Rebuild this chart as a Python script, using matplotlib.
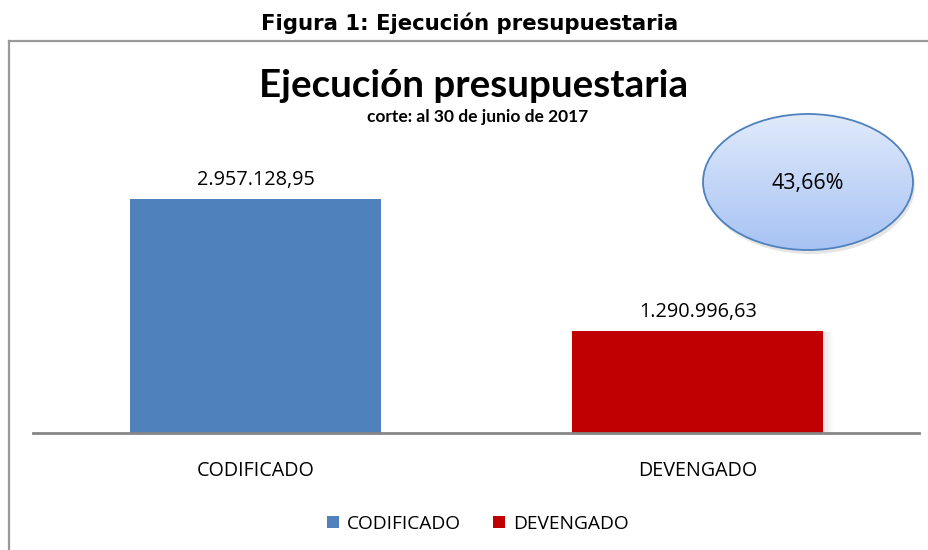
import matplotlib
matplotlib.use("Agg")
import matplotlib.pyplot as plt
import numpy as np
from matplotlib.patches import Ellipse, Rectangle
from matplotlib.lines import Line2D
from matplotlib.colors import LinearSegmentedColormap

categories = ["CODIFICADO", "DEVENGADO"]
values = [2957128.95, 1290996.63]
value_labels = ["2.957.128,95", "1.290.996,63"]
colors = ["#4F81BD", "#C00000"]
percent_label = "43,66%"
fig_title = "Figura 1: Ejecución presupuestaria"
chart_title = "Ejecución presupuestaria"
chart_subtitle = "corte: al 30 de junio de 2017"

W, H = 929, 550
fig = plt.figure(figsize=(W / 100, H / 100), dpi=100)

def fx(px):
    return px / W

def fy(py):
    return 1 - py / H

# figure caption
fig.text(fx(470), fy(30), fig_title, ha="center", va="baseline",
         fontsize=15.3, fontweight="bold", family="DejaVu Sans")

# chart frame (top and left borders)
fig.add_artist(Line2D([fx(9), fx(929)], [fy(41), fy(41)], color="#999999", lw=1.6))
fig.add_artist(Line2D([fx(9.5), fx(9.5)], [fy(41), fy(550)], color="#999999", lw=1.6))

# chart titles
fig.text(fx(474), fy(97), chart_title, ha="center", va="baseline",
         fontsize=27.7, fontweight="bold", family="Lato")
fig.text(fx(478), fy(122), chart_subtitle, ha="center", va="baseline",
         fontsize=12.5, fontweight="bold", family="Lato")

# axes: baseline at y=433, left 33, right 919
ax_top_px = 160
ax = fig.add_axes([fx(33), fy(433), fx(919) - fx(33), (433 - ax_top_px) / H])
x = np.arange(len(categories))
bw = 0.567
ymax = values[0] * (433 - ax_top_px) / (433 - 199)
ax.set_xlim(-0.503, 1.50)
ax.set_ylim(0, ymax)

# soft shadow on the right of the DEVENGADO bar
for k in range(6):
    ax.bar(x[1] + bw / 2 + 0.0035 * (k + 0.5), values[1] * 0.99, width=0.0035,
           color="#000000", alpha=0.10 * (1 - k / 6), zorder=1, linewidth=0)
bars = ax.bar(x, values, width=bw, color=colors, zorder=2, linewidth=0)

for xi, v, lab in zip(x, values, value_labels):
    ax.annotate(lab, (xi, v), xytext=(0, 10), textcoords="offset points",
                ha="center", va="baseline", fontsize=14.3, family="Open Sans")

for s in ["top", "right", "left"]:
    ax.spines[s].set_visible(False)
ax.spines["bottom"].set_color("#868686")
ax.spines["bottom"].set_linewidth(2)
ax.set_yticks([])
ax.set_xticks(x)
ax.set_xticklabels(categories, fontsize=14.2, family="Open Sans")
ax.tick_params(axis="x", length=0, pad=20)

# ellipse with gradient
cx, cy, ew, eh = 808, 182, 210, 136
eax = fig.add_axes([fx(cx - ew / 2 - 10), fy(cy + eh / 2 + 10), (ew + 20) / W, (eh + 20) / H])
eax.set_xlim(-(ew / 2 + 10), ew / 2 + 10)
eax.set_ylim(-(eh / 2 + 10), eh / 2 + 10)
eax.axis("off")
shadow = Ellipse((2, -4), ew, eh, facecolor="#000000", alpha=0.10, edgecolor="none")
eax.add_patch(shadow)
grad = np.linspace(0, 1, 256).reshape(-1, 1)
cmap = LinearSegmentedColormap.from_list("g", ["#A7C3F4", "#E0EAFB"])
ell = Ellipse((0, 0), ew, eh, facecolor="none", edgecolor="#4F81BD", lw=1.3, zorder=3)
eax.add_patch(ell)
im = eax.imshow(grad, cmap=cmap, extent=[-ew / 2, ew / 2, -eh / 2, eh / 2],
                origin="lower", aspect="auto", zorder=2)
im.set_clip_path(ell)
eax.text(0, -2, percent_label, ha="center", va="center", fontsize=15.5,
         family="Open Sans", zorder=4)

# legend
handles = [Rectangle((0, 0), 1, 1, facecolor=c) for c in colors]
fig.legend(handles, categories, loc="center", bbox_to_anchor=(fx(478), fy(524)),
           ncol=2, frameon=False, prop={"family": "Open Sans", "size": 13.8},
           handlelength=0.62, handleheight=0.62, handletextpad=0.4, columnspacing=1.7)

fig.savefig("out.png", dpi=100)
